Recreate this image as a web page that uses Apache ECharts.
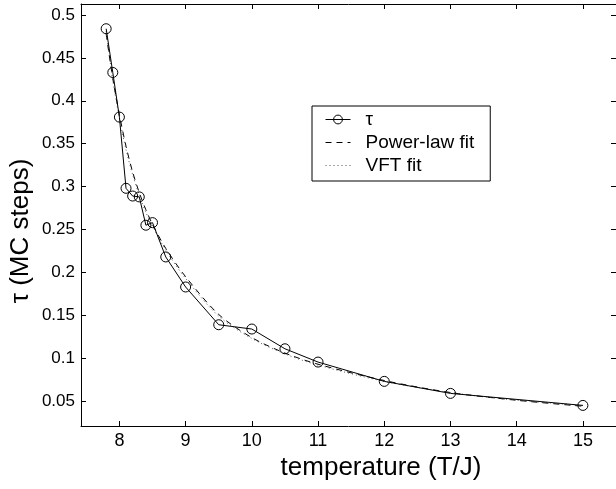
<!DOCTYPE html>
<html>
<head>
<meta charset="utf-8">
<script src="https://cdn.jsdelivr.net/npm/echarts@6/dist/echarts.min.js"></script>
<style>
html,body{margin:0;padding:0;background:#fff;}
#chart{width:616px;height:489px;}
</style>
</head>
<body>
<div id="chart"></div>
<script>
// Measured data (tau)
const tempT = [7.8, 7.9, 8.0, 8.1, 8.2, 8.3, 8.4, 8.5, 8.7, 9.0, 9.5, 10, 10.5, 11, 12, 13, 15];
const tauVals = [0.484, 0.433, 0.381, 0.298, 0.289, 0.288, 0.255, 0.258, 0.218, 0.183, 0.139, 0.134, 0.111, 0.0955, 0.073, 0.059, 0.045];

// Fit curves
const fitT = [7.8, 7.9, 8.0, 8.1, 8.2, 8.3, 8.4, 8.5, 8.7, 9.0, 9.5, 10, 10.5, 11, 12, 13, 14, 15];
const powerFit = [0.478, 0.426, 0.384, 0.347, 0.317, 0.293, 0.273, 0.256, 0.228, 0.195, 0.151, 0.124, 0.106, 0.093, 0.074, 0.060, 0.051, 0.044];
const vftFit = [0.481, 0.424, 0.380, 0.343, 0.314, 0.290, 0.270, 0.254, 0.226, 0.193, 0.149, 0.123, 0.105, 0.092, 0.073, 0.060, 0.051, 0.045];

// Tick labels
const xTicks = [8, 9, 10, 11, 12, 13, 14, 15];
const yTicks = [0.05, 0.1, 0.15, 0.2, 0.25, 0.3, 0.35, 0.4, 0.45, 0.5];

const seriesNames = ['τ', 'Power-law fit', 'VFT fit'];
const xTitle = 'temperature (T/J)';
const yTitle = 'τ (MC steps)';

const FONT = 'Liberation Sans, Arial, Helvetica, sans-serif';
const xMin = 7.42, xMax = 15.5, yMin = 0.021, yMax = 0.5128;

const pair = (xs, ys) => xs.map((x, i) => [x, ys[i]]);

const chart = echarts.init(document.getElementById('chart'), null, {renderer: 'canvas'});

const axisLineStyle = {color: '#000', width: 1};
const tickCommon = {show: true, inside: true, length: 5, lineStyle: {color: '#000', width: 1}};

chart.setOption({
  backgroundColor: '#fff',
  animation: false,
  grid: {left: 81, right: -2, top: 4, bottom: 63, containLabel: false},
  xAxis: [
    {
      type: 'value', min: xMin, max: xMax, position: 'bottom',
      axisLine: {show: true, onZero: false, lineStyle: axisLineStyle},
      axisTick: Object.assign({customValues: xTicks}, tickCommon),
      axisLabel: {customValues: xTicks, color: '#000', fontFamily: FONT, fontSize: 18, margin: 6},
      splitLine: {show: false}
    },
    {
      type: 'value', min: xMin, max: xMax, position: 'top',
      axisLine: {show: true, onZero: false, lineStyle: axisLineStyle},
      axisTick: Object.assign({customValues: xTicks}, tickCommon),
      axisLabel: {show: false},
      splitLine: {show: false}
    }
  ],
  yAxis: [
    {
      type: 'value', min: yMin, max: yMax, position: 'left',
      axisLine: {show: true, onZero: false, lineStyle: axisLineStyle},
      axisTick: Object.assign({customValues: yTicks}, tickCommon),
      axisLabel: {customValues: yTicks, color: '#000', fontFamily: FONT, fontSize: 17, margin: 6},
      splitLine: {show: false}
    },
    {
      type: 'value', min: yMin, max: yMax, position: 'right',
      axisLine: {show: true, onZero: false, lineStyle: axisLineStyle},
      axisTick: Object.assign({customValues: yTicks}, tickCommon),
      axisLabel: {show: false},
      splitLine: {show: false}
    }
  ],
  legend: {
    left: 312, top: 106,
    orient: 'vertical',
    data: [
      {name: seriesNames[0], lineStyle: {width: 1}, itemStyle: {borderWidth: 1}},
      {name: seriesNames[1], lineStyle: {width: 1}, itemStyle: {opacity: 0}},
      {name: seriesNames[2], lineStyle: {width: 1}, itemStyle: {opacity: 0}}
    ],
    backgroundColor: '#fff',
    borderColor: '#000', borderWidth: 1,
    borderRadius: 0,
    padding: [4, 16, 6, 13],
    itemWidth: 25, itemHeight: 11, itemGap: 4,
    textStyle: {color: '#000', fontFamily: FONT, fontSize: 19, padding: [0, 0, 0, 10], lineHeight: 18},
    selectedMode: false
  },
  graphic: [
    {
      type: 'text', x: 381, y: 468,
      style: {text: xTitle, font: '26px ' + FONT, fill: '#000', textAlign: 'center', textVerticalAlign: 'middle'}
    },
    {
      type: 'text', x: 21, y: 231, rotation: Math.PI / 2,
      style: {text: yTitle, font: '26px ' + FONT, fill: '#000', textAlign: 'center', textVerticalAlign: 'middle'}
    }
  ],
  series: [
    {
      name: seriesNames[0], type: 'line', data: pair(tempT, tauVals),
      symbol: 'circle', symbolSize: 10, showAllSymbol: true,
      lineStyle: {color: '#000', width: 1},
      itemStyle: {color: 'rgba(255,255,255,0)', borderColor: '#000', borderWidth: 1},
      z: 5
    },
    {
      name: seriesNames[1], type: 'line', data: pair(fitT, powerFit), smooth: 0.3,
      symbol: 'none',
      lineStyle: {color: '#000', width: 1, type: [6, 5]},
      itemStyle: {color: '#000'}
    },
    {
      name: seriesNames[2], type: 'line', data: pair(fitT, vftFit), smooth: 0.3,
      symbol: 'none',
      lineStyle: {color: '#555', width: 1, type: [1, 3]},
      itemStyle: {color: '#555'}
    }
  ]
});
</script>
</body>
</html>
